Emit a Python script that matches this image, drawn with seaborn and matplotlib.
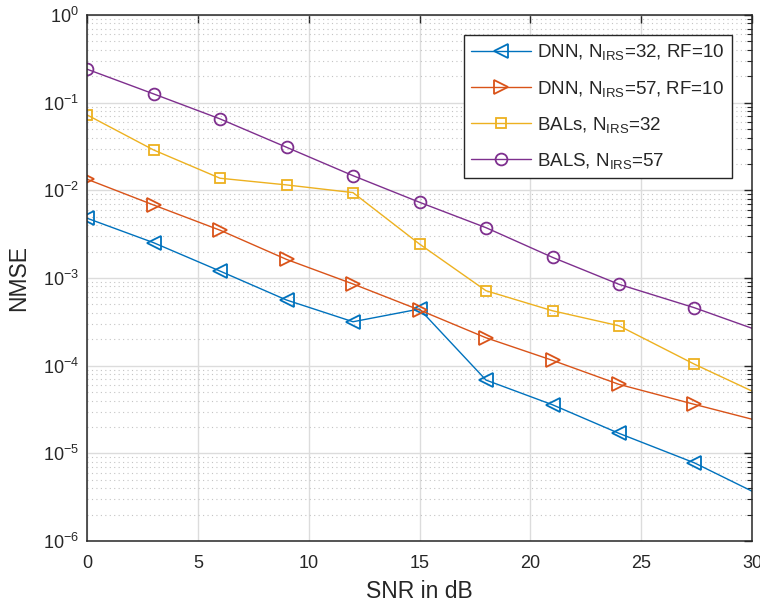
import numpy as np
import pandas as pd
import matplotlib
matplotlib.use("Agg")
import matplotlib.pyplot as plt
import seaborn as sns
from matplotlib.ticker import LogLocator, NullFormatter

# ---- data ----
snr = [0, 3, 6, 9, 12, 15, 18, 21, 24, 27.4, 30]
dnn_32 = [4.81e-3, 2.53e-3, 1.20e-3, 5.61e-4, 3.17e-4, 4.43e-4, 6.85e-5, 3.58e-5, 1.69e-5, 7.79e-6, 3.70e-6]
dnn_57 = [1.34e-2, 6.81e-3, 3.51e-3, 1.63e-3, 8.55e-4, 4.31e-4, 2.08e-4, 1.15e-4, 6.12e-5, 3.62e-5, 2.45e-5]
bals_32 = [7.26e-2, 2.89e-2, 1.374e-2, 1.153e-2, 9.42e-3, 2.44e-3, 7.16e-4, 4.23e-4, 2.85e-4, 1.04e-4, 5.13e-5]
bals_57 = [2.41e-1, 1.26e-1, 6.53e-2, 3.10e-2, 1.47e-2, 7.31e-3, 3.75e-3, 1.72e-3, 8.47e-4, 4.58e-4, 2.67e-4]

labels = [r"DNN, N$_\mathregular{IRS}$=32, RF=10",
          r"DNN, N$_\mathregular{IRS}$=57, RF=10",
          r"BALs, N$_\mathregular{IRS}$=32",
          r"BALS, N$_\mathregular{IRS}$=57"]
colors = ["#0072BD", "#D95319", "#EDB120", "#7E2F8E"]
markers = ["<", ">", "s", "o"]
msizes = [9.5, 9.5, 7, 8.5]
series = [dnn_32, dnn_57, bals_32, bals_57]

sns.set_theme(style="white")
plt.rcParams["font.family"] = ["Liberation Sans", "DejaVu Sans"]
plt.rcParams["mathtext.fontset"] = "custom"
plt.rcParams["mathtext.rm"] = "Liberation Sans"
plt.rcParams["mathtext.it"] = "Liberation Sans:italic"
plt.rcParams["mathtext.bf"] = "Liberation Sans:bold"

fig = plt.figure(figsize=(7.6, 6.04), dpi=100)
ax = fig.add_axes([87 / 760, (604 - 541) / 604, 665 / 760, 526 / 604])

for y, lab, c, m, ms in zip(series, labels, colors, markers, msizes):
    df = pd.DataFrame({"SNR": snr, "NMSE": y})
    sns.lineplot(data=df, x="SNR", y="NMSE", ax=ax, color=c, marker=m,
                 markersize=ms, markerfacecolor="none", markeredgecolor=c,
                 markeredgewidth=1.3, linewidth=1.0, label=lab,
                 markevery=list(range(len(snr) - 1)))

ax.set_yscale("log")
ax.set_xlim(0, 30)
ax.set_ylim(1e-6, 1e0)
ax.set_xticks([0, 5, 10, 15, 20, 25, 30])
ax.yaxis.set_major_locator(LogLocator(base=10, numticks=10))
ax.yaxis.set_minor_locator(LogLocator(base=10, subs=np.arange(2, 10), numticks=10))
ax.yaxis.set_minor_formatter(NullFormatter())

ax.grid(True, which="major", axis="both", color="#dcdcdc", linewidth=1.0, linestyle="-")
ax.grid(True, which="minor", axis="y", color="#c4c4c4", linewidth=0.8, linestyle=(0, (1, 3)))
ax.set_axisbelow(True)

for s in ax.spines.values():
    s.set_color("#262626")
    s.set_linewidth(1.1)
ax.tick_params(which="both", direction="in", top=True, right=True, colors="#262626",
               labelcolor="#262626", labelsize=13)
ax.tick_params(which="major", length=6, width=1.0)
ax.tick_params(which="minor", length=3.5, width=0.8)
ax.tick_params(axis="x", pad=10)
ax.tick_params(axis="y", pad=6)

ax.set_xlabel("SNR in dB", fontsize=16.5, color="#262626", labelpad=6)
ax.set_ylabel("NMSE", fontsize=16.5, color="#262626", labelpad=9)

leg = ax.legend(loc="upper right", bbox_to_anchor=((732 - 87) / 665, (541 - 35) / 526),
                borderaxespad=0, fontsize=13.5, frameon=True, fancybox=False,
                edgecolor="#262626", framealpha=1, handlelength=3.2,
                labelspacing=0.86, borderpad=0.4, handletextpad=0.3)
leg.get_frame().set_linewidth(1.0)

fig.savefig("out.png", dpi=100)
